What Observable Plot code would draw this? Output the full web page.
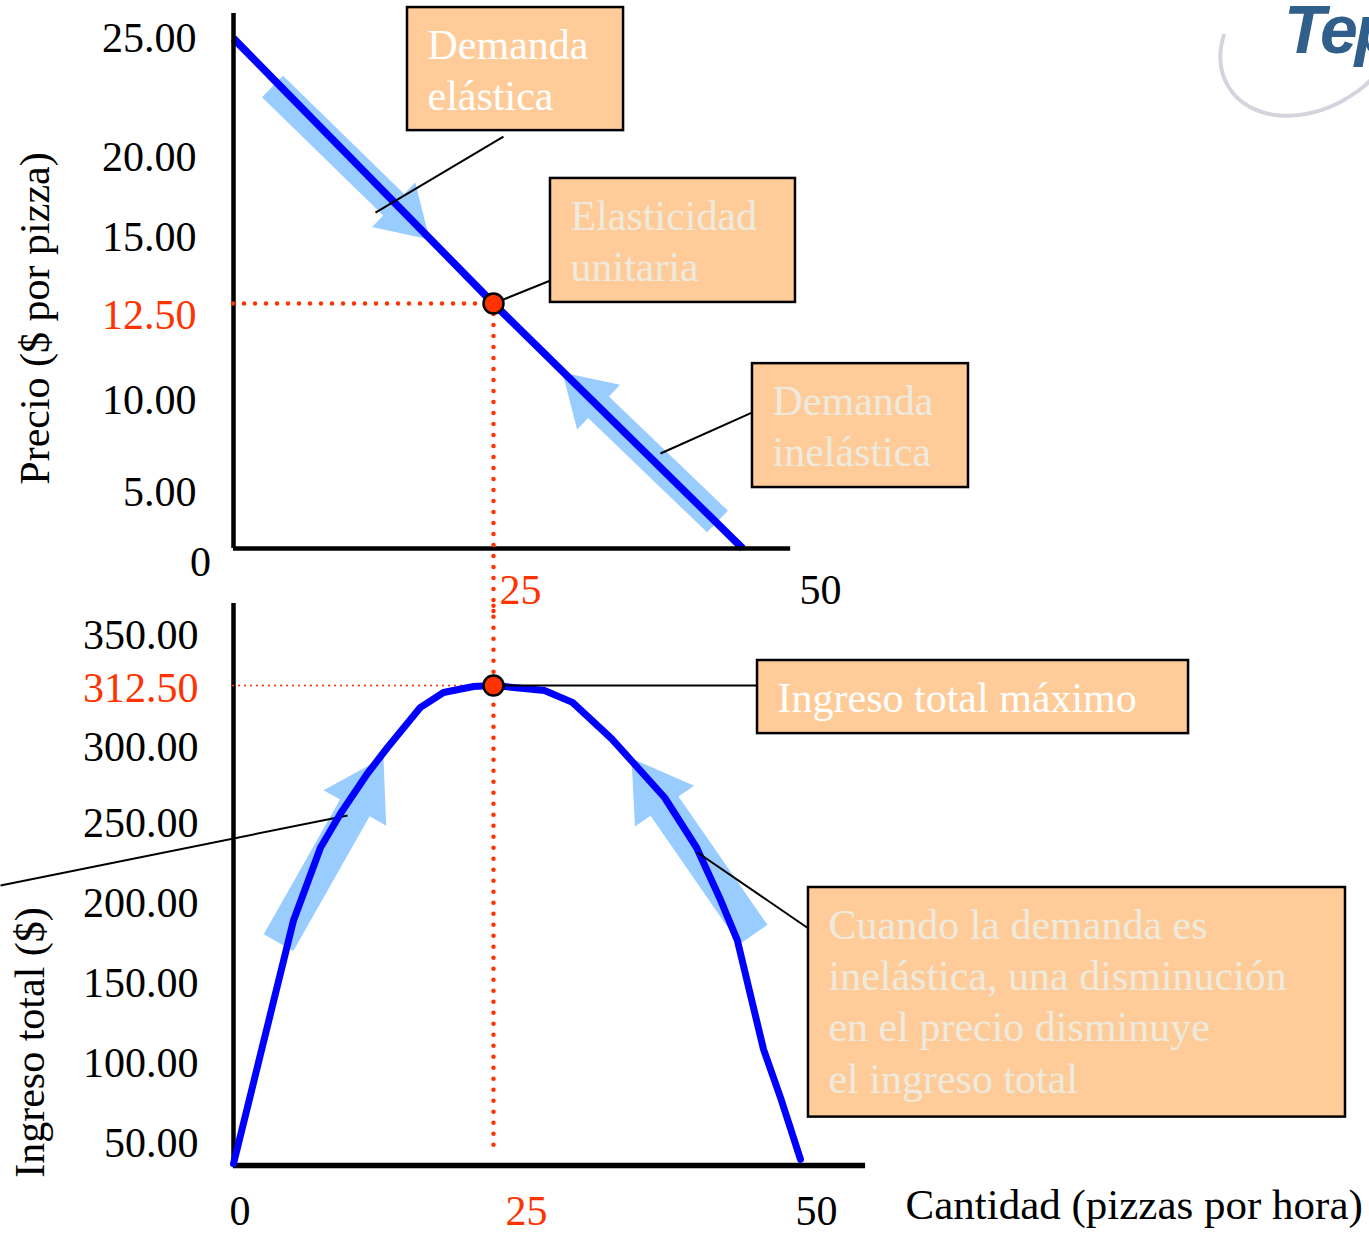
<!DOCTYPE html>
<html>
<head>
<meta charset="utf-8">
<script src="https://cdn.jsdelivr.net/npm/d3@7"></script>
<script src="https://cdn.jsdelivr.net/npm/@observablehq/plot@0.6"></script>
<style>
html, body { margin: 0; padding: 0; background: #fff; }
#wrap { position: relative; width: 1369px; height: 1233px; overflow: hidden; font-family: "Liberation Serif", "Times New Roman", serif; }
#top { position: absolute; left: 0; top: 0; }
#bottom { position: absolute; left: 0; top: 610px; }
#wrap svg { overflow: visible; }
#swoosh { position: absolute; left: 1212px; top: -38px; width: 190px; height: 140px; border: 4px solid #d4d4de; border-radius: 50%; border-right-color: transparent; border-top-color: transparent; transform: rotate(-32deg); }
#logo { position: absolute; left: 1284px; top: -10px; font: italic bold 68px "Liberation Sans", Arial, sans-serif; color: #2f5f8a; letter-spacing: -3px; white-space: nowrap; }
</style>
</head>
<body>
<div id="wrap">
  <div id="swoosh"></div>
  <div id="logo">Tep</div>
  <div id="top"></div>
  <div id="bottom"></div>
</div>
<script>
// ---------------- data ----------------
const quantityTicks = [0, 25, 50];
const priceTicks = [25, 20, 15, 12.5, 10, 5];
const revenueTicks = [350, 312.5, 300, 250, 200, 150, 100, 50];

const demandQuantity = [0, 25, 45.3];
const demandPrice = [25, 12.5, 0];

const revenueQuantity = [0, 5.77, 8.37, 10.29, 12.88, 14.81, 17.98, 20.19, 23.08, 25, 29.15, 31.43, 34.61, 38.93, 41.53, 43.4, 44.86, 46.99, 48.45, 50];
const totalRevenue   = [4, 189.4, 235, 256.6, 282.9, 300, 308.1, 311.1, 312.3, 312.5, 311.5, 309.1, 301.8, 267.1, 235, 203.8, 176.9, 108.8, 76.9, 14];

const unitElasticQuantity = 25;
const unitElasticPrice = 12.5;
const maxRevenue = 312.5;

// movement arrows (tail -> tip), in data units
const priceArrowTails = [[3.75, 22.98], [43.24, 2.41]];
const priceArrowTips  = [[18.85, 14.92], [30.62, 10.72]];
const revenueArrowTails = [[4.33, 175.6], [46.17, 180.6]];
const revenueArrowTips  = [[14.42, 293.4], [36.24, 292.8]];

// callout texts
const topLabels = ["Demanda\nelástica", "Elasticidad\nunitaria", "Demanda\ninelástica"];
const bottomLabels = ["Ingreso total máximo", "Cuando la demanda es\ninelástica, una disminución\nen el precio disminuye\nel ingreso total"];

// ---------------- styles / layout config ----------------
const RED = "#ff3300", BLUE = "#0000ff", ARROW = "#99ccff", BOX = "#ffcc99", CREAM = "#eeeade", WHITE = "#ffffff";
const FONT = "Liberation Serif, Times New Roman, serif";
const FS = 42;

const xCfg = {type: "linear", domain: [0, 25, 50], range: [233, 493, 800]};
const yTopCfg = {type: "linear", domain: [0, 5, 10, 12.5, 15, 20, 25], range: [548, 492, 400, 303, 237, 157, 38]};
const yBotCfg = {type: "linear", domain: [0, 50, 100, 150, 200, 250, 300, 312.5, 350], range: [555, 533, 453, 373, 293, 213, 137, 75, 25]};

// callout boxes in data space
const topBoxes = [
  {x1: 16.73, x2: 35.59, y1: 26.30, y2: 21.13, color: WHITE, lead: [[25.81, 20.88], [13.65, 16.56]]},
  {x1: 29.64, x2: 49.59, y1: 18.69, y2: 12.54, color: CREAM, lead: [[29.64, 13.37], [25, 12.5]]},
  {x1: 46.09, x2: 63.68, y1: 10.95, y2: 5.27, color: CREAM, lead: [[46.09, 9.35], [38.6, 7.12]]}
].map((b, i) => ({...b, label: topLabels[i]}));
const bottomBoxes = [
  {x1: 46.5, x2: 81.6, y1: 331.25, y2: 302.8, color: WHITE, lead: [[46.5, 312.5], [25, 312.5]]},
  {x1: 50.65, x2: 94.38, y1: 210, y2: 66.5, color: CREAM, lead: [[50.65, 184.4], [41.61, 231.9]]}
].map((b, i) => ({...b, label: bottomLabels[i]}));
const orphanLead = [[-22.4, 211.25], [10.96, 255.3]];

// block-arrow polygon, shaped in pixel space then mapped back to data through the same scale config
function blockArrow(id, tail, tip, xc, yc, shaft, headW, headL) {
  const xs = d3.scaleLinear().domain(xc.domain).range(xc.range);
  const ys = d3.scaleLinear().domain(yc.domain).range(yc.range);
  const tx = xs(tail[0]), ty = ys(tail[1]), px = xs(tip[0]), py = ys(tip[1]);
  const L = Math.hypot(px - tx, py - ty), ux = (px - tx) / L, uy = (py - ty) / L, nx = -uy, ny = ux;
  const bx = px - ux * headL, by = py - uy * headL;
  const pts = [
    [tx + nx * shaft / 2, ty + ny * shaft / 2],
    [bx + nx * shaft / 2, by + ny * shaft / 2],
    [bx + nx * headW / 2, by + ny * headW / 2],
    [px, py],
    [bx - nx * headW / 2, by - ny * headW / 2],
    [bx - nx * shaft / 2, by - ny * shaft / 2],
    [tx - nx * shaft / 2, ty - ny * shaft / 2]
  ];
  return pts.map(([X, Y]) => ({id, q: xs.invert(X), v: ys.invert(Y)}));
}

const demand = demandQuantity.map((q, i) => ({q, p: demandPrice[i]}));
const revenue = revenueQuantity.map((q, i) => ({q, r: totalRevenue[i]}));
const topArrows = priceArrowTails.flatMap((t, i) => blockArrow(i, t, priceArrowTips[i], xCfg, yTopCfg, 30, 62, 50));
const botArrows = revenueArrowTails.flatMap((t, i) => blockArrow(i, t, revenueArrowTips[i], xCfg, yBotCfg, 34, 72, 58));
const fmt = d => d.toFixed(2);

function calloutMarks(boxes) {
  const marks = [];
  for (const b of boxes) {
    marks.push(Plot.link([b], {x1: d => d.lead[0][0], y1: d => d.lead[0][1], x2: d => d.lead[1][0], y2: d => d.lead[1][1], stroke: "#000", strokeWidth: 2}));
    marks.push(Plot.rect([b], {x1: "x1", x2: "x2", y1: "y1", y2: "y2", fill: BOX, stroke: "#000", strokeWidth: 2.5}));
    marks.push(Plot.text([b], {x: "x1", y: "y1", text: "label", textAnchor: "start", lineAnchor: "top", lineHeight: 1.22, dx: 20, dy: 15, fill: b.color, fontSize: FS, fontFamily: FONT}));
  }
  return marks;
}

// ---------------- top panel: demand ----------------
const topPlot = Plot.plot({
  width: 1369, height: 610,
  marginLeft: 0, marginRight: 0, marginTop: 0, marginBottom: 0,
  style: {fontFamily: FONT, background: "transparent", overflow: "visible"},
  x: {...xCfg, axis: null},
  y: {...yTopCfg, axis: null},
  marks: [
    Plot.line(topArrows, {x: "q", y: "v", z: "id", fill: ARROW, stroke: "none", curve: "linear"}),
    Plot.line(demand, {x: "q", y: "p", stroke: BLUE, strokeWidth: 7.5, strokeLinecap: "butt"}),
    Plot.ruleX([0], {y1: 0, y2: 26.05, stroke: "#000", strokeWidth: 4.5}),
    Plot.ruleY([0], {x1: 0, x2: 49.2, stroke: "#000", strokeWidth: 4.5}),
    Plot.ruleY([unitElasticPrice], {x1: 0, x2: unitElasticQuantity, stroke: RED, strokeWidth: 4.5, strokeDasharray: "0 11", strokeLinecap: "round"}),
    Plot.ruleX([unitElasticQuantity], {y1: unitElasticPrice, y2: -6, stroke: RED, strokeWidth: 4.5, strokeDasharray: "0 11", strokeLinecap: "round"}),
    ...calloutMarks(topBoxes),
    Plot.dot([{q: unitElasticQuantity, p: unitElasticPrice}], {x: "q", y: "p", r: 10, fill: RED, stroke: "#000", strokeWidth: 2.5}),
    Plot.text(priceTicks.filter(d => d !== unitElasticPrice), {x: 0, y: d => d, text: fmt, textAnchor: "end", dx: -37, fontSize: FS, fill: "#000"}),
    Plot.text([unitElasticPrice], {x: 0, y: d => d, text: fmt, textAnchor: "end", dx: -37, dy: 12, fontSize: FS, fill: RED}),
    Plot.text([0], {x: 0, y: 0, text: d => String(d), textAnchor: "middle", dx: -33, dy: 14, fontSize: FS, fill: "#000"}),
    Plot.text(quantityTicks.filter(d => d === unitElasticQuantity), {x: d => d, y: 0, text: d => String(d), textAnchor: "start", dx: 6, dy: 42, fontSize: FS, fill: RED}),
    Plot.text(quantityTicks.filter(d => d > unitElasticQuantity), {x: d => d, y: 0, text: d => String(d), textAnchor: "start", dx: -1, dy: 42, fontSize: FS, fill: "#000"}),
    Plot.text(["Precio ($ por pizza)"], {x: 0, y: 12.5, text: d => d, rotate: -90, textAnchor: "middle", dx: -198, dy: 15, fontSize: FS, fill: "#000"})
  ]
});
document.getElementById("top").appendChild(topPlot);

// ---------------- bottom panel: total revenue ----------------
const botPlot = Plot.plot({
  width: 1369, height: 623,
  marginLeft: 0, marginRight: 0, marginTop: 0, marginBottom: 0,
  style: {fontFamily: FONT, background: "transparent", overflow: "visible"},
  x: {...xCfg, axis: null},
  y: {...yBotCfg, axis: null},
  marks: [
    Plot.line(botArrows, {x: "q", y: "v", z: "id", fill: ARROW, stroke: "none", curve: "linear"}),
    Plot.link([orphanLead], {x1: d => d[0][0], y1: d => d[0][1], x2: d => d[1][0], y2: d => d[1][1], stroke: "#000", strokeWidth: 2}),
    Plot.ruleX([0], {y1: 0, y2: 374, stroke: "#000", strokeWidth: 4.5}),
    Plot.ruleY([0], {x1: 0, x2: 55.3, stroke: "#000", strokeWidth: 5.5}),
    Plot.ruleY([maxRevenue], {x1: 0, x2: unitElasticQuantity, stroke: RED, strokeWidth: 2.2, strokeDasharray: "0 6", strokeLinecap: "round"}),
    Plot.ruleX([unitElasticQuantity], {y1: 372, y2: 22.7, stroke: RED, strokeWidth: 4.5, strokeDasharray: "0 11", strokeLinecap: "round"}),
    Plot.line(revenue, {x: "q", y: "r", stroke: BLUE, strokeWidth: 7, strokeLinejoin: "round", strokeLinecap: "round"}),
    ...calloutMarks(bottomBoxes),
    Plot.dot([{q: unitElasticQuantity, r: maxRevenue}], {x: "q", y: "r", r: 10, fill: RED, stroke: "#000", strokeWidth: 2.5}),
    Plot.text(revenueTicks.filter(d => d !== maxRevenue), {x: 0, y: d => d, text: fmt, textAnchor: "end", dx: -35, fontSize: FS, fill: "#000"}),
    Plot.text([maxRevenue], {x: 0, y: d => d, text: fmt, textAnchor: "end", dx: -35, dy: 3, fontSize: FS, fill: RED}),
    Plot.text(quantityTicks.filter(d => d < unitElasticQuantity), {x: d => d, y: 0, text: d => String(d), textAnchor: "start", dx: -4, dy: 46, fontSize: FS, fill: "#000"}),
    Plot.text(quantityTicks.filter(d => d > unitElasticQuantity), {x: d => d, y: 0, text: d => String(d), textAnchor: "start", dx: -5, dy: 46, fontSize: FS, fill: "#000"}),
    Plot.text(quantityTicks.filter(d => d === unitElasticQuantity), {x: d => d, y: 0, text: d => String(d), textAnchor: "start", dx: 12, dy: 46, fontSize: FS, fill: RED}),
    Plot.text(["Ingreso total ($)"], {x: 0, y: 100, text: d => d, rotate: -90, textAnchor: "middle", dx: -203, dy: -21, fontSize: FS, fill: "#000"}),
    Plot.text(["Cantidad (pizzas por hora)"], {x: 58.55, y: 0, text: d => d, textAnchor: "start", dy: 40, fontSize: 43, fill: "#000"})
  ]
});
document.getElementById("bottom").appendChild(botPlot);
</script>
</body>
</html>
